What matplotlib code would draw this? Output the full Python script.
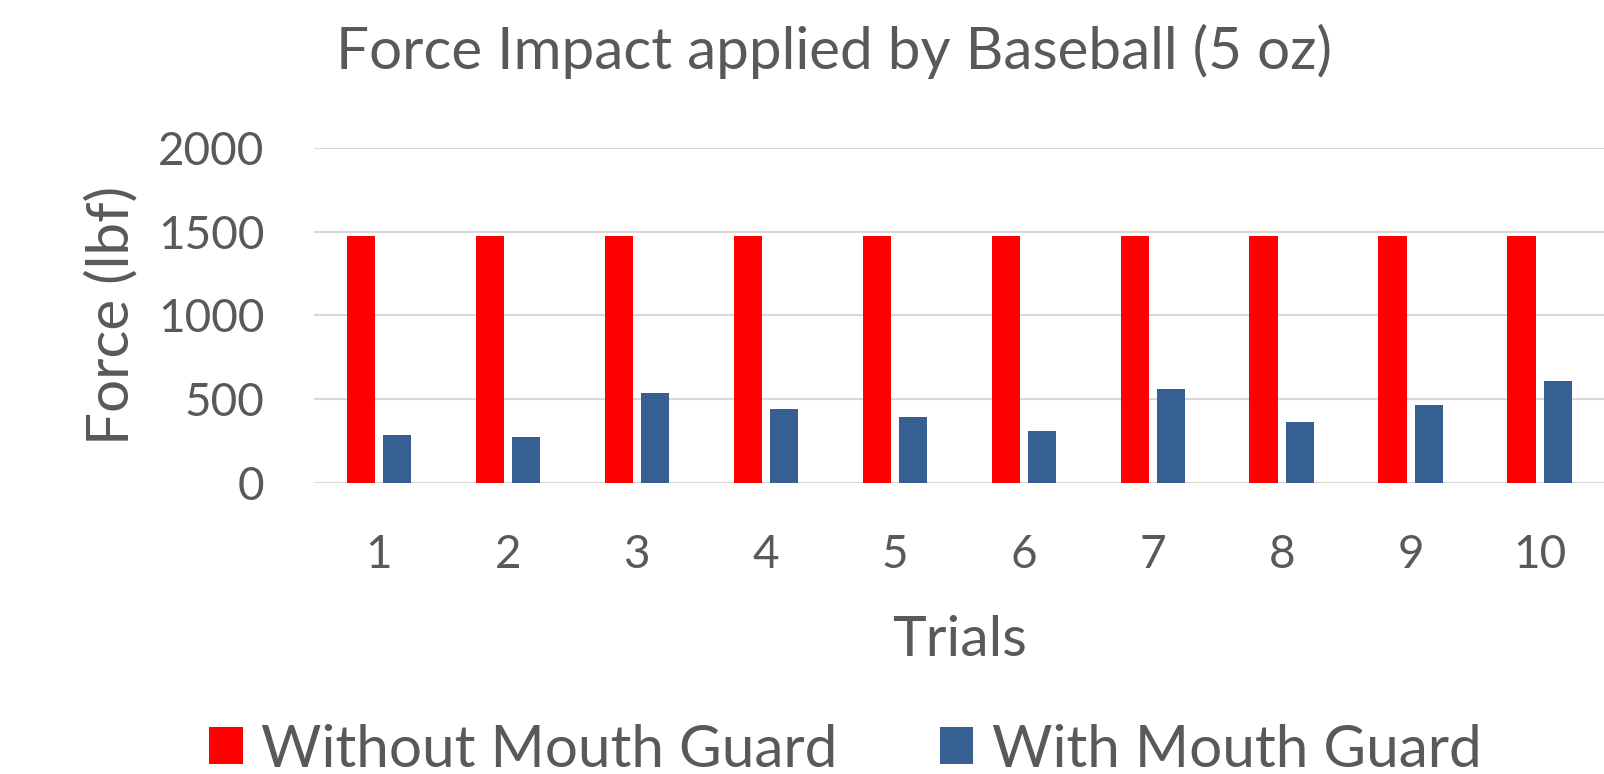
import matplotlib.pyplot as plt
import numpy as np

# data
trials = ["1", "2", "3", "4", "5", "6", "7", "8", "9", "10"]
without_guard = [1475, 1475, 1475, 1475, 1475, 1475, 1475, 1475, 1475, 1475]
with_guard = [285, 275, 534, 442, 394, 309, 560, 365, 466, 610]

plt.rcParams['font.family'] = ['Lato', 'DejaVu Sans']
txt = '#595959'

fig = plt.figure(figsize=(16.04, 7.74), dpi=100)
ax = fig.add_axes([0.196, 0.376, 0.804, 0.433])

x = np.arange(len(trials))
w = 0.218
ax.bar(x - 0.14, without_guard, w, color='#FF0000', label='Without Mouth Guard', zorder=3)
ax.bar(x + 0.14, with_guard, w, color='#366091', label='With Mouth Guard', zorder=3)

ax.set_xlim(-0.5, len(trials) - 0.5)
ax.set_ylim(0, 2000)
ax.set_yticks([0, 500, 1000, 1500, 2000])
ax.set_xticks(x)
ax.set_xticklabels(trials)
ax.yaxis.grid(True, color='#d9d9d9', linewidth=1.5, zorder=0)
for s in ['top', 'right', 'left', 'bottom']:
    ax.spines[s].set_visible(False)
ax.tick_params(axis='both', length=0, labelsize=33, colors=txt)
ax.tick_params(axis='y', pad=36)
ax.tick_params(axis='x', pad=37)

ax.set_xlabel('Trials', fontsize=41, color=txt, labelpad=28)
ax.set_ylabel('Force (lbf)', fontsize=42, color=txt, labelpad=14)
fig.text(0.52, 0.934, 'Force Impact applied by Baseball (5 oz)', fontsize=42,
         color=txt, ha='center', va='center')

fig.legend(loc='center', bbox_to_anchor=(0.527, 0.031), ncol=2, frameon=False,
           fontsize=42, labelcolor=txt, handlelength=0.58, handleheight=0.6,
           handletextpad=0.31, columnspacing=1.75)

fig.savefig('out.png', dpi=100)
